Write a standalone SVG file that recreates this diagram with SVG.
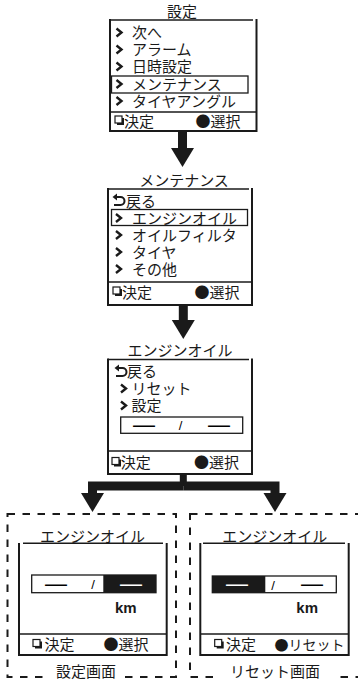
<svg xmlns="http://www.w3.org/2000/svg" width="358" height="683" viewBox="0 0 358 683">
<style>
.t{font-family:"Noto Sans CJK JP","Noto Sans CJK SC",sans-serif;font-size:15px;fill:#1a1a1a}
.m{text-anchor:middle}
.km{font-family:"Liberation Sans",Arial,sans-serif;font-weight:bold;font-size:15px;fill:#1a1a1a}
.dash{font-family:"Liberation Sans",Arial,sans-serif;font-size:22px;text-anchor:middle}
.sl{font-family:"Liberation Sans",Arial,sans-serif;font-size:13px;text-anchor:middle}
.frame{fill:none;stroke:#1a1a1a;stroke-width:2}
.ul{fill:none;stroke:#1a1a1a;stroke-width:1.5}
.sep{fill:none;stroke:#1a1a1a;stroke-width:1.5}
.hl{fill:none;stroke:#1a1a1a;stroke-width:1.3}
.chev{fill:none;stroke:#1a1a1a;stroke-width:2.4;stroke-linejoin:miter}
.ret{fill:none;stroke:#1a1a1a;stroke-width:2}
.fld{fill:#fff;stroke:#1a1a1a;stroke-width:1.3}
.blk{fill:#1a1a1a}
.dbox{fill:none;stroke:#1a1a1a;stroke-width:2;stroke-dasharray:7.5 7.5}
.conn{fill:none;stroke:#1a1a1a;stroke-width:9}
</style>
<defs>
<marker id="ah" markerUnits="userSpaceOnUse" markerWidth="20" markerHeight="24" viewBox="0 -12 20 24" refX="0" refY="0" orient="auto">
<path d="M0,-11.5 L19,0 L0,11.5 z" fill="#1a1a1a"/>
</marker>
<g id="sq"><rect x="2" y="-3" width="7" height="7" fill="#1a1a1a"/><rect x="0" y="-5" width="7" height="7" fill="#fff" stroke="#1a1a1a" stroke-width="1.2"/></g>
<path id="chv" d="M0,-4 L5,0 L0,4" class="chev"/>
<g id="rt"><path d="M116,-4 H120.5 A4,4 0 0 1 120.5,4 H114" class="ret"/><path d="M112.5,-4 L117,-7.5 L117,-0.5 z" fill="#1a1a1a"/></g>
</defs>

<g id="connectors">
<path d="M182.5,131 V148" class="conn" marker-end="url(#ah)"/>
<path d="M183.3,305 V320" class="conn" marker-end="url(#ah)"/>
<path d="M183.3,474 V486" fill="none" stroke="#1a1a1a" stroke-width="7"/>
<path d="M183.3,486 H92.5 V493" class="conn" stroke-width="8" marker-end="url(#ah)"/>
<path d="M183.3,486 H275 V493" class="conn" stroke-width="8" marker-end="url(#ah)"/>
</g>

<g id="node-settings">
<text class="t m" x="182" y="17">設定</text>
<path class="frame" d="M110,19 V131 H256.5 V19"/>
<path class="ul" d="M110,20 H253"/>
<use href="#chv" x="116.5" y="32.5"/><text class="t" x="132" y="38">次へ</text>
<use href="#chv" x="116.5" y="49.5"/><text class="t" x="132" y="55">アラーム</text>
<use href="#chv" x="116.5" y="66.5"/><text class="t" x="132" y="72">日時設定</text>
<rect class="hl" x="111.5" y="76" width="136.5" height="17"/>
<use href="#chv" x="116.5" y="84"/><text class="t" x="132" y="89.5">メンテナンス</text>
<use href="#chv" x="116.5" y="101"/><text class="t" x="132" y="106.5">タイヤアングル</text>
<path class="sep" d="M110,112 H256.5"/>
<use href="#sq" x="115" y="121"/><text class="t" x="124" y="126.5">決定</text>
<text class="t" x="195.5" y="126.5">●選択</text>
</g>

<g id="node-maintenance">
<text class="t m" x="184" y="186">メンテナンス</text>
<path class="frame" d="M108,188 V305 H252 V188"/>
<path class="ul" d="M108,189 H249"/>
<use href="#rt" x="0" y="201"/><text class="t" x="126" y="206.5">戻る</text>
<rect class="hl" x="111.5" y="209.5" width="136" height="16"/>
<use href="#chv" x="116" y="218"/><text class="t" x="132" y="223.5">エンジンオイル</text>
<use href="#chv" x="116" y="235"/><text class="t" x="132" y="240.5">オイルフィルタ</text>
<use href="#chv" x="116" y="252"/><text class="t" x="132" y="257.5">タイヤ</text>
<use href="#chv" x="116" y="269"/><text class="t" x="132" y="274.5">その他</text>
<path class="sep" d="M108,282 H252"/>
<use href="#sq" x="113" y="292"/><text class="t" x="122" y="297.5">決定</text>
<text class="t" x="194.5" y="297.5">●選択</text>
</g>

<g id="node-engine-oil">
<text class="t m" x="180" y="356">エンジンオイル</text>
<path class="frame" d="M108,358.5 V474 H252 V358.5"/>
<path class="ul" d="M108,359.5 H249"/>
<use href="#rt" x="2" y="372"/><text class="t" x="127" y="377">戻る</text>
<use href="#chv" x="121" y="388.5"/><text class="t" x="131.5" y="394">リセット</text>
<use href="#chv" x="121" y="405.5"/><text class="t" x="131.5" y="411">設定</text>
<rect class="fld" x="120.7" y="417" width="122" height="16.3"/>
<text class="dash" x="144" y="431.5">—</text>
<text class="sl" x="180.5" y="430">/</text>
<text class="dash" x="219" y="431.5">—</text>
<path class="sep" d="M108,451 H252"/>
<use href="#sq" x="112" y="462.5"/><text class="t" x="120.7" y="468">決定</text>
<text class="t" x="194" y="468">●選択</text>
</g>

<g id="node-setting-screen">
<rect class="dbox" x="7.5" y="514" width="168.5" height="163"/>
<rect x="50" y="666" width="72" height="17" fill="#fff"/>
<text class="t m" x="86" y="677">設定画面</text>
<text class="t m" x="92.5" y="541.5">エンジンオイル</text>
<path class="frame" d="M19,543 V655 H166.7 V543"/>
<path class="ul" d="M23,543.3 H163"/>
<rect class="fld" x="31.7" y="575" width="124.3" height="17.7"/>
<rect class="blk" x="103.3" y="575" width="52.7" height="17.7"/>
<text class="dash" x="56" y="590.5">—</text>
<text class="sl" x="93" y="589">/</text>
<text class="dash" x="131" y="590.5" fill="#fff">—</text>
<text class="km" x="115" y="613">km</text>
<path class="sep" d="M19,634 H166.7"/>
<use href="#sq" x="33" y="644.5"/><text class="t" x="44.5" y="650">決定</text>
<text class="t" x="103.5" y="650">●選択</text>
</g>

<g id="node-reset-screen">
<rect class="dbox" x="190" y="514" width="200" height="163"/>
<rect x="213" y="666" width="124" height="17" fill="#fff"/>
<text class="t m" x="275" y="677">リセット画面</text>
<text class="t m" x="274.7" y="541.5">エンジンオイル</text>
<path class="frame" d="M200.3,543 V655 H348.7 V543"/>
<path class="ul" d="M203,543.3 H345"/>
<rect class="fld" x="212.3" y="576" width="124" height="16.7"/>
<rect class="blk" x="212.3" y="576" width="53" height="16.7"/>
<text class="dash" x="237" y="591" fill="#fff">—</text>
<text class="sl" x="273" y="589.5">/</text>
<text class="dash" x="312" y="591">—</text>
<text class="km" x="296.3" y="613">km</text>
<path class="sep" d="M200.3,634 H348.7"/>
<use href="#sq" x="214.7" y="644.5"/><text class="t" x="226" y="650">決定</text>
<text class="t" x="274.5" y="650" style="font-size:14px">●リセット</text>
</g>
</svg>
